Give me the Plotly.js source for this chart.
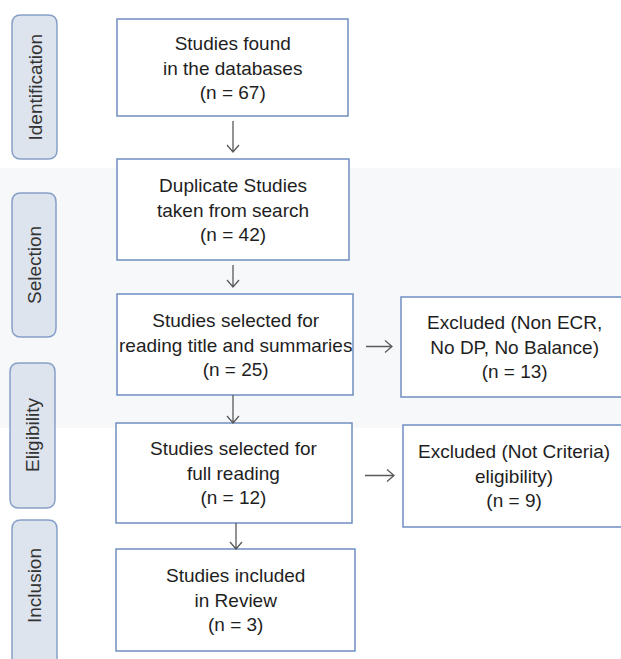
<!DOCTYPE html>
<html>
<head>
<meta charset="utf-8">
<script src="https://cdn.plot.ly/plotly-3.0.1.min.js"></script>
<style>html,body{margin:0;padding:0;background:#fff;}#chart{width:621px;height:659px;}</style>
</head>
<body>
<div id="chart"></div>
<script>
// ---- data ----
const stages = ["Identification", "Selection", "Eligibility", "Inclusion"];
const mainLabels = ["Studies found<br>in the databases", "Duplicate Studies<br>taken from search", "Studies selected for<br>reading title and summaries", "Studies selected for<br>full reading", "Studies included<br>in Review"];
const mainCounts = [67, 42, 25, 12, 3];
const excludedLabels = ["Excluded (Non ECR,<br>No DP, No Balance)", "Excluded (Not Criteria)<br>eligibility)"];
const excludedCounts = [13, 9];

// ---- layout geometry (pixel coordinates on axes) ----
const stageBoxes = [[12, 15, 57, 159], [12, 193, 56, 337], [10, 363, 55, 508], [12, 520, 57, 672]];
const mainBoxes = [[117, 19, 348, 116], [117, 159, 349, 260], [117, 294, 353, 395], [116, 423, 352, 523], [116, 549, 355, 651]];
const exclBoxes = [[401, 297, 630, 397], [403, 425, 630, 527]];
const exclSource = [2, 3];

const shapes = [];
const annotations = [];
const boxLine = {color: "#6f8fc0", width: 1.5};
const arrowLine = {color: "#5a5a5a", width: 1.3};
const txtFont = {family: "Liberation Sans, Arial, sans-serif", size: 19, color: "#1e1e1e"};

// faint grey band
shapes.push({type: "rect", xref: "x", yref: "y", x0: 0, x1: 621, y0: 168, y1: 428, fillcolor: "#f7f8fa", line: {width: 0}, layer: "below"});

function roundRect(b, r) {
  const [x0, y0, x1, y1] = b;
  return `M${x0 + r},${y0} L${x1 - r},${y0} Q${x1},${y0} ${x1},${y0 + r} L${x1},${y1 - r} Q${x1},${y1} ${x1 - r},${y1} L${x0 + r},${y1} Q${x0},${y1} ${x0},${y1 - r} L${x0},${y0 + r} Q${x0},${y0} ${x0 + r},${y0} Z`;
}

stages.forEach((s, i) => {
  const b = stageBoxes[i];
  shapes.push({type: "path", xref: "x", yref: "y", path: roundRect(b, 9), fillcolor: "#dde4ee", line: {color: "#86a0c8", width: 1.5}});
  annotations.push({x: (b[0] + b[2]) / 2, y: (Math.min(b[3], 659) + b[1]) / 2 + (i === 3 ? -4 : 0), xref: "x", yref: "y", text: s, showarrow: false, textangle: -90, font: {family: "Liberation Sans, Arial, sans-serif", size: 19, color: "#333333"}});
});

mainLabels.forEach((t, i) => {
  const b = mainBoxes[i];
  shapes.push({type: "rect", xref: "x", yref: "y", x0: b[0], x1: b[2], y0: b[1], y1: b[3], fillcolor: "#ffffff", line: boxLine});
  annotations.push({x: (b[0] + b[2]) / 2, y: (b[1] + b[3]) / 2, xref: "x", yref: "y", text: t + "<br>(n = " + mainCounts[i] + ")", showarrow: false, align: "center", font: txtFont});
});

excludedLabels.forEach((t, i) => {
  const b = exclBoxes[i];
  shapes.push({type: "rect", xref: "x", yref: "y", x0: b[0], x1: b[2], y0: b[1], y1: b[3], fillcolor: "#ffffff", line: boxLine});
  annotations.push({x: 514, y: (b[1] + b[3]) / 2, xref: "x", yref: "y", text: t + "<br>(n = " + excludedCounts[i] + ")", showarrow: false, align: "center", font: txtFont});
});

// vertical arrows between main boxes
for (let i = 0; i < mainBoxes.length - 1; i++) {
  const a = mainBoxes[i], b = mainBoxes[i + 1];
  const x = i === 3 ? 236 : 233;
  const y0 = a[3] + (i < 2 ? 5 : 0), y1 = b[1] - (i < 2 ? 7 : 0);
  shapes.push({type: "path", xref: "x", yref: "y", path: `M${x},${y0} L${x},${y1} M${x - 6},${y1 - 7} L${x},${y1} L${x + 6},${y1 - 7}`, line: arrowLine});
}
// horizontal arrows to excluded boxes
exclBoxes.forEach((b, i) => {
  const src = mainBoxes[exclSource[i]];
  const y = (b[1] + b[3]) / 2 - 0.5;
  const x0 = src[2] + 13, x1 = b[0] - 9;
  shapes.push({type: "path", xref: "x", yref: "y", path: `M${x0},${y} L${x1},${y} M${x1 - 7},${y - 6} L${x1},${y} L${x1 - 7},${y + 6}`, line: arrowLine});
});

const layout = {
  width: 621, height: 659,
  margin: {l: 0, r: 0, t: 0, b: 0},
  paper_bgcolor: "#ffffff", plot_bgcolor: "#ffffff",
  xaxis: {range: [0, 621], visible: false, fixedrange: true},
  yaxis: {range: [659, 0], visible: false, fixedrange: true},
  showlegend: false,
  shapes: shapes,
  annotations: annotations
};

Plotly.newPlot("chart", [{x: [], y: [], type: "scatter", mode: "markers"}], layout, {staticPlot: true, displayModeBar: false});
</script>
</body>
</html>
